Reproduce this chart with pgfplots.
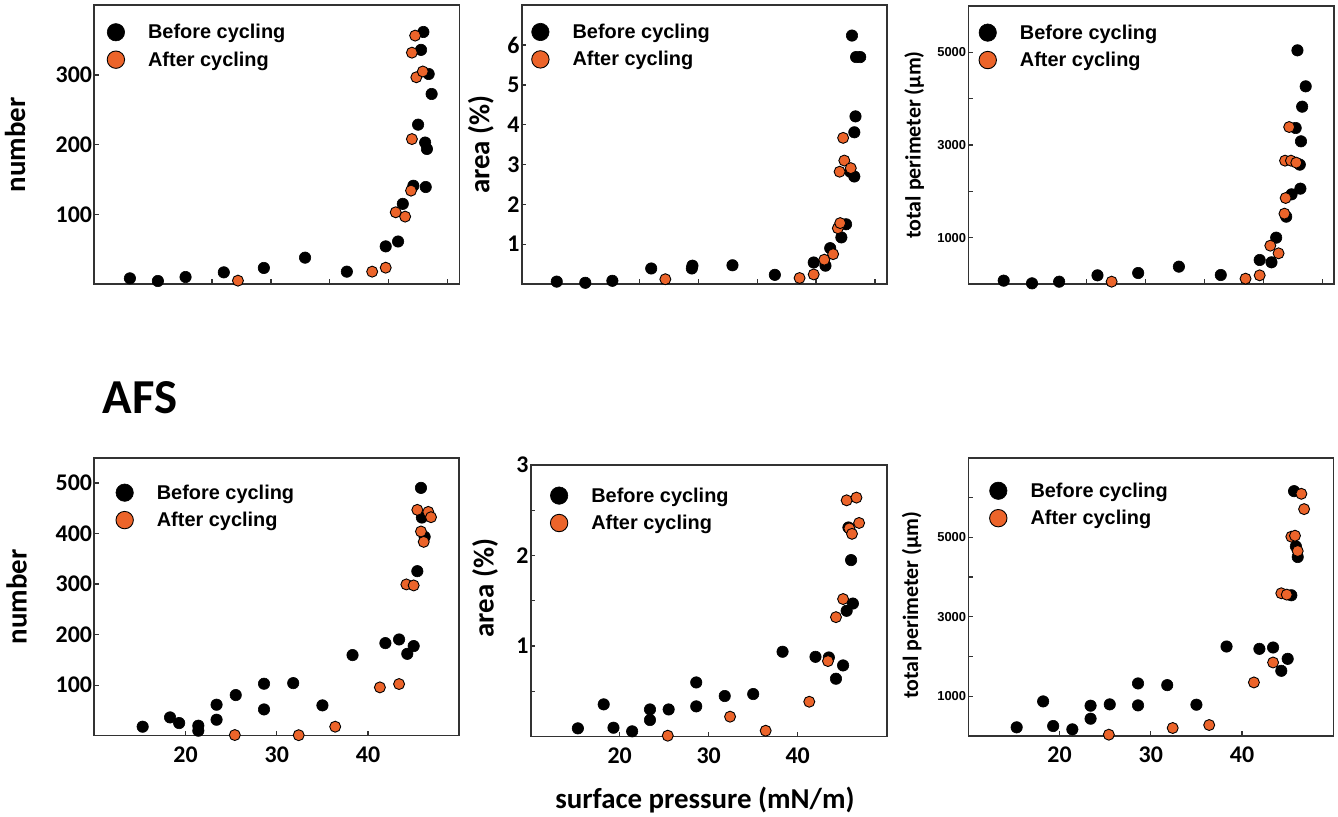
\documentclass[border=0pt]{standalone}
\usepackage{fontspec}
\setmainfont{Carlito}
\newfontfamily\legfont{Liberation Sans}
\usepackage{pgfplots}
\pgfplotsset{compat=1.18}
\definecolor{aorange}{RGB}{236,100,42}
\definecolor{axgray}{RGB}{50,50,50}
\pgfplotsset{
  panel/.style={
    scale only axis, width=365bp, height=278bp, clip=false,
    axis line style={axgray, line width=1.6bp},
    tick style={axgray, line width=1.3bp},
    tick align=inside, major tick length=4.5bp,
    xtick pos=bottom, ytick pos=left,
    scaled ticks=false,
    /pgf/number format/assume math mode=true,
    /pgf/number format/1000 sep={},
    ticklabel style={font=\bfseries\fontsize{24}{24}\selectfont, inner sep=2bp},
    xticklabel style={yshift=-9bp},
    every axis y label/.style={rotate=90, anchor=center, font=\bfseries\fontsize{29}{29}\selectfont},
    legend style={draw=none, fill=none, inner sep=0pt, outer sep=0pt, anchor=north west,
      font=\legfont\bfseries\fontsize{20}{22}\selectfont, row sep=7.5bp},
    legend cell align=left,
    legend image code/.code={\draw[##1, mark size=8.7bp] plot coordinates {(0bp,0bp)}; \path (-9bp,0bp) (30bp,0bp);},
  },
  topx/.style={xmin=0, xmax=62, xtick={20,30,40,50,60}, xticklabels={}},
  botx/.style={xmin=10, xmax=50, xtick={20,30,40}},
  bef/.style={only marks, mark=*, mark size=5.7bp, mark options={fill=black, draw=black, line width=0.6bp}},
  aft/.style={only marks, mark=*, mark size=5.5bp, mark options={fill=aorange, draw=black, line width=0.9bp}},
}
\begin{document}
\begin{tikzpicture}
\useasboundingbox (0bp,0bp) rectangle (1338bp,817bp);

% ---------- top left: number ----------
\begin{axis}[panel, topx, at={(94.3bp,533bp)}, anchor=south west, height=278.7bp,
  ymin=0, ymax=400, ytick={100,200,300},
  ylabel={number}, ylabel style={at={(axis description cs:-0.217,0.5)}},
  legend style={at={(axis description cs:0.034,0.939)}}]
\addplot[bef] coordinates {(6.05,8.1)(10.8,4.3)(15.5,10)(22.0,16.7)(28.8,23)(35.8,37.8)(42.9,17.7)(49.5,54)(51.6,61)(52.4,115)(54.2,141)(55.0,228.7)(55.9,361.7)(55.5,336)(56.8,301.4)(57.3,272.7)(56.2,203)(56.5,193.8)(56.3,139.2)};
\addplot[aft] coordinates {(24.4,4.8)(47.2,17.7)(49.5,23.4)(51.2,102.9)(52.8,96.7)(53.8,134)(53.95,208)(53.95,332)(54.5,356.5)(54.7,296.7)(55.8,305)};
\legend{Before cycling, After cycling}
\end{axis}

% ---------- top middle: area ----------
\begin{axis}[panel, topx, at={(521.7bp,533bp)}, anchor=south west, height=278.7bp,
  ymin=0, ymax=7, ytick={1,2,3,4,5,6},
  ylabel={area (\%)}, ylabel style={at={(axis description cs:-0.112,0.5)}},
  legend style={at={(axis description cs:0.026,0.94)}}]
\addplot[bef] coordinates {(5.95,0.06)(10.8,0.03)(15.4,0.08)(22.0,0.39)(29.0,0.46)(28.9,0.39)(35.8,0.47)(43.0,0.23)(49.6,0.54)(51.6,0.46)(52.4,0.90)(54.3,1.17)(55.1,1.50)(56.1,6.24)(56.8,5.70)(57.5,5.70)(56.7,4.21)(56.5,3.81)(55.8,2.82)(56.5,2.70)};
\addplot[aft] coordinates {(24.4,0.12)(47.2,0.15)(49.6,0.24)(51.4,0.61)(52.9,0.75)(53.7,1.40)(54.1,1.53)(54.0,2.82)(54.6,3.67)(54.8,3.10)(55.9,2.91)};
\legend{Before cycling, After cycling}
\end{axis}

% ---------- top right: perimeter ----------
\begin{axis}[panel, topx, at={(968.3bp,533bp)}, anchor=south west, width=365.7bp,
  ymin=0, ymax=6000, ytick={1000,2000,3000,4000,5000}, yticklabels={1000,,3000,,5000},
  yticklabel style={font=\legfont\bfseries\fontsize{13}{13}\selectfont},
  ylabel={total perimeter (µm)}, ylabel style={at={(axis description cs:-0.148,0.5)}, font=\bfseries\fontsize{22}{22}\selectfont},
  legend style={at={(axis description cs:0.028,0.94)}}]
\addplot[bef] coordinates {(6.0,72)(10.8,14)(15.4,50)(21.9,187)(28.8,237)(35.7,374)(42.8,194)(49.4,518)(51.4,468)(52.2,1000)(53.9,1453)(54.8,1935)(55.8,5043)(57.2,4266)(56.6,3827)(55.5,3367)(56.4,3079)(56.2,2576)(56.3,2058)};
\addplot[aft] coordinates {(24.3,50)(47.0,115)(49.4,187)(51.2,827)(52.6,662)(53.6,1518)(53.8,1856)(53.7,2662)(54.7,2662)(55.6,2619)(54.4,3388)};
\legend{Before cycling, After cycling}
\end{axis}

% ---------- bottom left: number ----------
\begin{axis}[panel, botx, at={(94.3bp,81.3bp)}, anchor=south west,
  ymin=0, ymax=550, ytick={100,200,300,400,500},
  ylabel={number}, ylabel style={at={(axis description cs:-0.213,0.5)}},
  legend style={at={(axis description cs:0.058,0.91)}}]
\addplot[bef] coordinates {(15.3,17.8)(18.3,36.2)(19.3,25)(21.4,19.8)(21.4,9.9)(23.4,61.3)(23.4,31.6)(25.5,80.4)(28.6,102.8)(28.6,52)(31.8,104)(35.0,60)(38.3,159.5)(41.9,183.2)(43.4,190.4)(44.3,162)(45.0,177.3)(45.4,325.5)(45.8,490.3)(45.9,431.6)(46.2,393.4)};
\addplot[aft] coordinates {(25.4,1.3)(32.4,1)(36.4,17.8)(41.3,95.6)(43.4,102.2)(44.2,299.3)(45.0,297.3)(45.4,446.8)(45.8,404)(46.1,383.5)(46.6,442.8)(46.9,432.3)};
\legend{Before cycling, After cycling}
\end{axis}

% ---------- bottom middle: area ----------
\begin{axis}[panel, botx, at={(530.7bp,80.3bp)}, anchor=south west, width=356bp, height=271.7bp,
  ymin=0, ymax=3, ytick={0.5,1,1.5,2,2.5,3}, yticklabels={,1,,2,,3},
  ylabel={area (\%)}, ylabel style={at={(axis description cs:-0.128,0.547)}},
  legend style={at={(axis description cs:0.054,0.924)}}]
\addplot[bef] coordinates {(15.3,0.092)(18.2,0.357)(19.3,0.099)(21.4,0.059)(23.4,0.301)(23.4,0.184)(25.5,0.301)(28.6,0.599)(28.6,0.335)(31.8,0.449)(35.0,0.471)(38.3,0.938)(42.0,0.882)(43.5,0.875)(44.3,0.64)(45.1,0.787)(45.5,1.39)(46.2,1.47)(46.0,1.95)(45.7,2.31)};
\addplot[aft] coordinates {(25.4,0.011)(32.4,0.221)(36.4,0.066)(41.3,0.386)(43.4,0.835)(44.3,1.32)(45.1,1.52)(45.5,2.61)(46.6,2.64)(45.8,2.30)(46.1,2.24)(46.9,2.36)};
\legend{Before cycling, After cycling}
\end{axis}

% ---------- bottom right: perimeter ----------
\begin{axis}[panel, botx, at={(968.3bp,81bp)}, anchor=south west, height=278.3bp,
  ymin=0, ymax=7000, ytick={1000,2000,3000,4000,5000,6000}, yticklabels={1000,,3000,,5000,},
  yticklabel style={font=\legfont\bfseries\fontsize{13}{13}\selectfont},
  ylabel={total perimeter (µm)}, ylabel style={at={(axis description cs:-0.155,0.47)}, font=\bfseries\fontsize{22}{22}\selectfont},
  legend style={at={(axis description cs:0.057,0.917)}}]
\addplot[bef] coordinates {(15.3,218)(18.2,870)(19.3,251)(21.4,167)(23.4,762)(23.4,435)(25.5,795)(28.6,770)(28.6,1322)(31.8,1280)(35.0,787)(38.3,2251)(41.9,2192)(43.4,2226)(44.3,1640)(45.0,1941)(45.4,3540)(45.7,6159)(45.9,4770)(46.1,4502)};
\addplot[aft] coordinates {(25.4,33)(32.4,201)(36.4,276)(41.3,1347)(43.4,1849)(44.3,3590)(44.9,3556)(45.4,5013)(45.8,5038)(46.1,4653)(46.5,6092)(46.8,5707)};
\legend{Before cycling, After cycling}
\end{axis}

\node[font=\bfseries\fontsize{49}{49}\selectfont, anchor=center] at (140bp,419bp) {AFS};
\node[font=\bfseries\fontsize{29}{29}\selectfont, anchor=center] at (705bp,17bp) {surface pressure (mN/m)};
\end{tikzpicture}
\end{document}
